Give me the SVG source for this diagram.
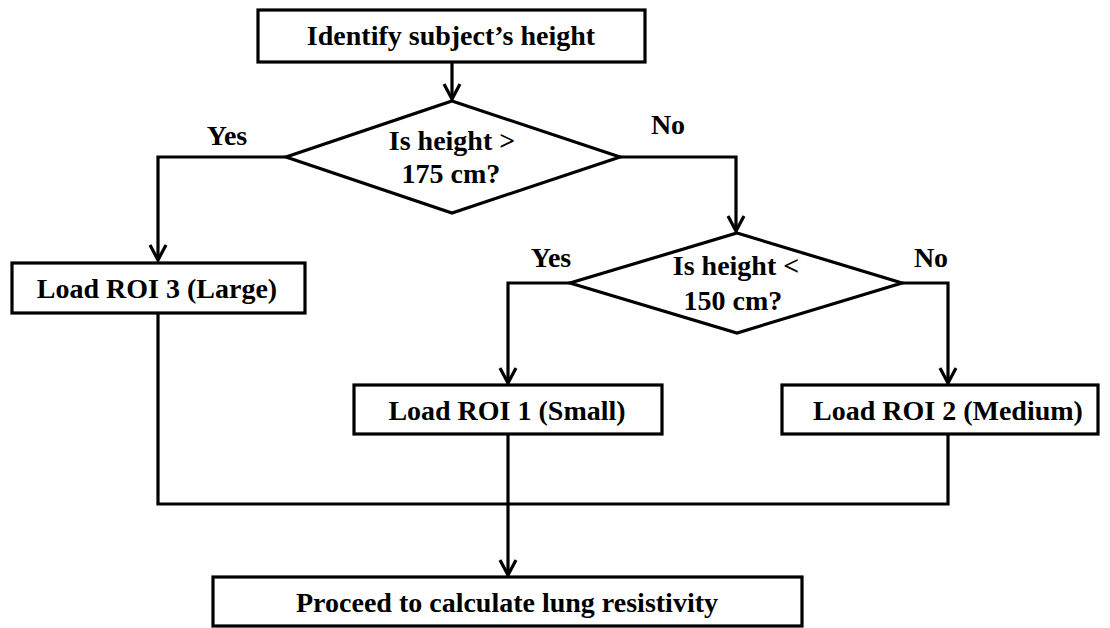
<svg xmlns="http://www.w3.org/2000/svg" width="1110" height="628" viewBox="0 0 1110 628">
<style>
.box{fill:#fff;stroke:#000;stroke-width:3.2}
.dia{fill:#fff;stroke:#000;stroke-width:3.2;stroke-linejoin:miter}
.con{fill:none;stroke:#000;stroke-width:3.2}
.t{font-family:"Liberation Serif","Times New Roman",serif;font-weight:bold;font-size:28px;fill:#000;text-anchor:middle}
</style>
<defs>
<marker id="arr" markerUnits="userSpaceOnUse" viewBox="-20 -12 24 24" markerWidth="24" markerHeight="24" refX="0" refY="0" orient="auto">
<path d="M-15,-8 L0,0 L-15,8" fill="none" stroke="#000" stroke-width="3.2" stroke-linejoin="miter"/>
</marker>
</defs>
<rect width="1110" height="628" fill="#fff"/>
<g id="connectors">
<path class="con" d="M452,62 L452,99" marker-end="url(#arr)"/>
<path class="con" d="M286,157 L158,157 L158,260" marker-end="url(#arr)"/>
<path class="con" d="M620,157 L736,157 L736,231" marker-end="url(#arr)"/>
<path class="con" d="M570,283 L508,283 L508,383" marker-end="url(#arr)"/>
<path class="con" d="M902,283 L948,283 L948,383" marker-end="url(#arr)"/>
<path class="con" d="M158,313 L158,504 L948,504 L948,434"/>
<path class="con" d="M508,434 L508,575" marker-end="url(#arr)"/>
</g>
<g id="labels">
<text class="t" x="227" y="145">Yes</text>
<text class="t" x="668" y="134">No</text>
<text class="t" x="551" y="267">Yes</text>
<text class="t" x="931" y="267">No</text>
</g>
<g id="start">
<rect class="box" x="258" y="10" width="387" height="52"/>
<text class="t" x="451" y="45">Identify subject’s height</text>
</g>
<g id="decision1">
<polygon class="dia" points="452,101 620,157 452,213 286,157"/>
<text class="t" x="452" y="150">Is height &gt;</text>
<text class="t" x="451" y="183">175 cm?</text>
</g>
<g id="roi3">
<rect class="box" x="12" y="263" width="293" height="50"/>
<text class="t" x="157" y="298">Load ROI 3 (Large)</text>
</g>
<g id="decision2">
<polygon class="dia" points="737,233 902,283 737,333 570,283"/>
<text class="t" x="736" y="275">Is height &lt;</text>
<text class="t" x="733" y="310">150 cm?</text>
</g>
<g id="roi1">
<rect class="box" x="354" y="385" width="308" height="49"/>
<text class="t" x="507" y="420">Load ROI 1 (Small)</text>
</g>
<g id="roi2">
<rect class="box" x="782" y="385" width="316" height="49"/>
<text class="t" x="948" y="420">Load ROI 2 (Medium)</text>
</g>
<g id="end">
<rect class="box" x="213" y="577" width="589" height="49"/>
<text class="t" x="507" y="612">Proceed to calculate lung resistivity</text>
</g>
</svg>
